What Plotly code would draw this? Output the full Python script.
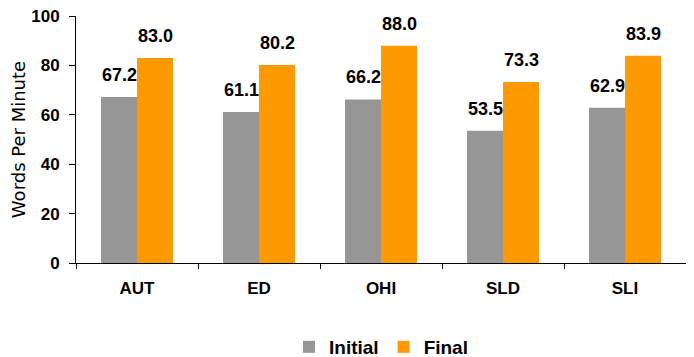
import plotly.graph_objects as go

categories = ["AUT", "ED", "OHI", "SLD", "SLI"]
initial = [67.2, 61.1, 66.2, 53.5, 62.9]
final = [83.0, 80.2, 88.0, 73.3, 83.9]

FONT = "Arial, Liberation Sans, sans-serif"
TITLE_FONT = "DejaVu Sans, Verdana, sans-serif"

fig = go.Figure()
fig.add_bar(x=categories, y=initial, name="Initial", marker_color="#969696", marker_line_width=0)
fig.add_bar(x=categories, y=final, name="Final", marker_color="#FF9900", marker_line_width=0)

annotations = []
for vals, shift in ((initial, -18), (final, 18)):
    for c, v in zip(categories, vals):
        annotations.append(dict(x=c, y=v, xref="x", yref="y", text=f"<b>{v:.1f}</b>", showarrow=False,
                                xshift=shift, yshift=10, yanchor="bottom",
                                font=dict(family=FONT, size=18, color="black")))

fig.update_layout(
    width=694, height=380,
    margin=dict(l=68, r=16, t=8, b=125),
    paper_bgcolor="white", plot_bgcolor="white",
    barmode="group", bargap=0.41, bargroupgap=0,
    font=dict(family=FONT, size=17, color="black"),
    annotations=annotations,
    showlegend=True,
    legend=dict(orientation="h", x=0.5, xanchor="center", y=-0.34, yanchor="middle",
                font=dict(family=FONT, size=19, color="black", weight="bold"),
                itemwidth=30, traceorder="normal"),
    xaxis=dict(showline=True, linecolor="black", linewidth=1, ticks="outside", tickson="boundaries",
               ticklen=5, tickcolor="black", automargin=False, ticklabelstandoff=10,
               tickfont=dict(family=FONT, size=17, color="black", weight="bold")),
    yaxis=dict(range=[0, 100], dtick=20, showline=True, linecolor="black", linewidth=1,
               ticks="outside", ticklen=6, tickcolor="black", showgrid=False, zeroline=False,
               automargin=False, ticklabelstandoff=6, ticklabeloverflow="allow",
               tickfont=dict(family=FONT, size=17, color="black", weight="bold"),
               title=dict(text="Words Per Minute", font=dict(family=TITLE_FONT, size=18, color="black"), standoff=0)),
)

fig.write_html("out.html")
